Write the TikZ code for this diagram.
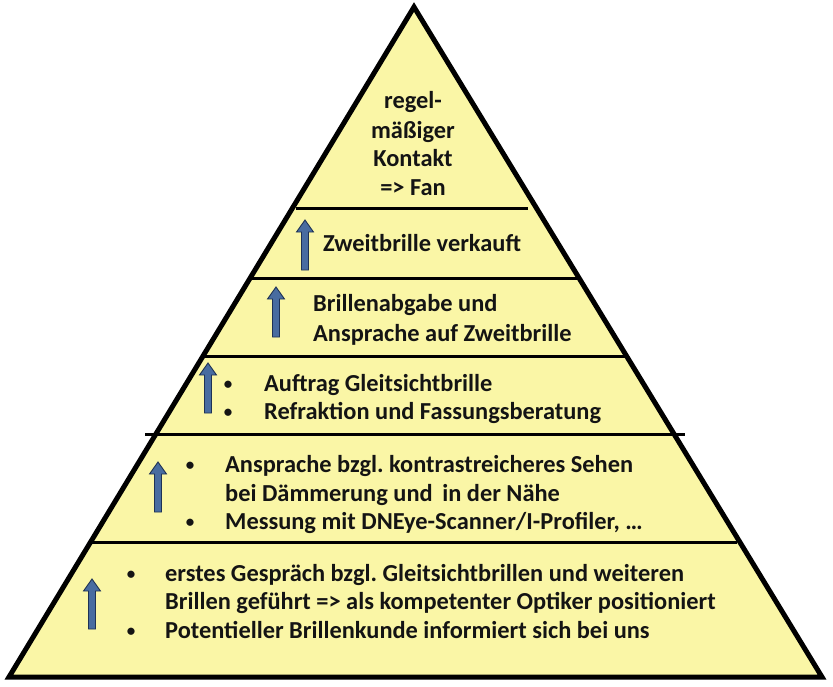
\documentclass[tikz,border=0pt]{standalone}
\usepackage{fontspec}
\setmainfont{Carlito}
\frenchspacing
\definecolor{pyrfill}{RGB}{250,246,166}
\definecolor{textc}{RGB}{20,20,20}
\definecolor{arrfill}{RGB}{72,108,160}
\definecolor{arrline}{RGB}{30,50,85}
\tikzset{
  uparr/.pic={\draw[line width=0.9pt, draw=arrline, fill=arrfill, line join=miter]
    (-3.5,25) -- (-3.5,-13) -- (-8.5,-13) -- (0,-25) -- (8.5,-13) -- (3.5,-13) -- (3.5,25) -- cycle;},
  tierline/.style={line width=3pt, draw=black},
  txt/.style={anchor=base west, inner sep=0pt, text=textc, font=\bfseries\fontsize{24.4}{29}\selectfont},
  ctxt/.style={anchor=base, inner sep=0pt, text=textc, font=\bfseries\fontsize{24.4}{29}\selectfont},
  bul/.style={anchor=base, inner sep=0pt, text=textc, font=\bfseries\fontsize{17}{29}\selectfont}
}
\begin{document}
\begin{tikzpicture}[x=1pt,y=-1pt]
\useasboundingbox (0,0) rectangle (833,686);
\coordinate (apex) at (414,7);
\coordinate (bl) at (9,677);
\coordinate (br) at (822,677);
\fill[pyrfill] (apex) -- (br) -- (bl) -- cycle;
% tier lines
\draw[tierline] (296,208) -- (528,208);
\draw[tierline] (252,278) -- (577,278);
\draw[tierline] (203,356) -- (625,356);
\draw[tierline] (145,434) -- (685,434);
\draw[tierline] (88,542) -- (737,542);
\draw[line width=5pt, line join=miter] (apex) -- (br) -- (bl) -- cycle;
% top
\node[ctxt] (t1a) at (413,108) {regel-};
\node[ctxt] (t1b) at (413,138) {mäßiger};
\node[ctxt] (t1c) at (413,166) {Kontakt};
\node[ctxt] (t1d) at (413,195) {=> Fan};
% tier 2
\pic at (305,245) {uparr};
\node[txt] (t2) at (323,251) {Zweitbrille verkauft};
% tier 3
\pic at (276,312) {uparr};
\node[txt] (t3a) at (313,311) {Brillenabgabe und};
\node[txt] (t3b) at (313,341) {Ansprache auf Zweitbrille};
% tier 4
\pic at (208,388) {uparr};
\node[bul] (b4a) at (228,389) {•};
\node[bul] (b4b) at (228,417) {•};
\node[txt] (t4a) at (264,391) {Auftrag Gleitsichtbrille};
\node[txt] (t4b) at (264,419) {Refraktion und Fassungsberatung};
% tier 5
\pic at (158,487) {uparr};
\node[bul] (b5a) at (190,470) {•};
\node[bul] (b5b) at (190,527) {•};
\node[txt] (t5a) at (225,472) {Ansprache bzgl. kontrastreicheres Sehen};
\node[txt] (t5b) at (225,501) {bei Dämmerung und\, in der Nähe};
\node[txt] (t5c) at (225,529) {Messung mit DNEye-Scanner/I-Profiler, …};
% tier 6
\pic at (92,604) {uparr};
\node[bul] (b6a) at (131,579) {•};
\node[bul] (b6b) at (131,636) {•};
\node[txt] (t6a) at (165,581) {erstes Gespräch bzgl. Gleitsichtbrillen und weiteren};
\node[txt] (t6b) at (165,609) {Brillen geführt => als kompetenter Optiker positioniert};
\node[txt] (t6c) at (165,638) {Potentieller Brillenkunde informiert sich bei uns};
\end{tikzpicture}
\end{document}
